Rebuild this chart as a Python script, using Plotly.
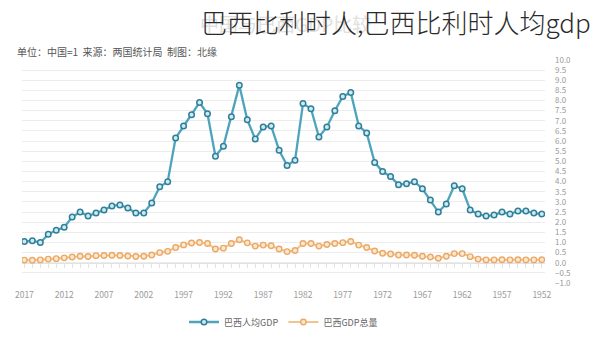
import plotly.graph_objects as go

# Years run from 2017 back to 1952 (newest on the left)
years = list(range(2017, 1951, -1))

# Brazil per-capita GDP relative to China (China = 1)
per_capita_ratio = [
    1.05, 1.08, 1.00, 1.40, 1.60, 1.75, 2.25, 2.50, 2.30, 2.45,   # 2017-2008
    2.60, 2.80, 2.85, 2.70, 2.45, 2.45, 2.95, 3.75, 4.00, 6.15,   # 2007-1998
    6.75, 7.30, 7.90, 7.35, 5.25, 5.75, 7.20, 8.75, 7.05, 6.10,   # 1997-1988
    6.70, 6.75, 5.55, 4.80, 5.05, 7.85, 7.60, 6.20, 6.70, 7.50,   # 1987-1978
    8.20, 8.40, 6.75, 6.40, 4.95, 4.50, 4.25, 3.85, 3.90, 4.00,   # 1977-1968
    3.65, 3.10, 2.50, 2.90, 3.80, 3.65, 2.60, 2.40, 2.30, 2.35,   # 1967-1958
    2.50, 2.40, 2.55, 2.55, 2.45, 2.40,                           # 1957-1952
]

# Brazil total GDP relative to China (China = 1)
gdp_ratio = [
    0.13, 0.12, 0.14, 0.18, 0.20, 0.24, 0.28, 0.32, 0.31, 0.35,
    0.36, 0.37, 0.36, 0.33, 0.31, 0.32, 0.38, 0.50, 0.56, 0.75,
    0.88, 0.97, 1.00, 0.95, 0.68, 0.72, 0.95, 1.13, 0.98, 0.82,
    0.87, 0.84, 0.68, 0.55, 0.60, 0.95, 0.95, 0.82, 0.90, 0.95,
    0.99, 1.05, 0.87, 0.75, 0.58, 0.47, 0.43, 0.38, 0.38, 0.37,
    0.32, 0.28, 0.22, 0.32, 0.45, 0.45, 0.30, 0.18, 0.14, 0.14,
    0.15, 0.14, 0.15, 0.14, 0.14, 0.15,
]

x_tick_years = [2017, 2012, 2007, 2002, 1997, 1992, 1987, 1982, 1977, 1972, 1967, 1962, 1957, 1952]
y_tick_values = [v * 0.5 for v in range(-2, 21)]

series_names = ["巴西人均GDP", "巴西GDP总量"]
main_title = "巴西比利时人,巴西比利时人均gdp"
faded_title = "中国与巴西GDP比较"
subtitle = "单位：中国=1  来源：两国统计局  制图：北缘"

FONT = "Noto Sans CJK SC"
W, H = 600, 337
ML, MR, MT, MB = 22, 55, 60, 54
PW, PH = W - ML - MR, H - MT - MB
x_range = [2017.3, 1951.6]
y_range = [-1.0, 10.0]


def px_to_paper(px, py):
    return (px - ML) / PW, (H - MB - py) / PH


fig = go.Figure()

fig.add_trace(go.Scatter(
    x=years, y=per_capita_ratio, name=series_names[0],
    mode="lines+markers",
    line=dict(color="#4ea4bd", width=2.3),
    marker=dict(symbol="circle", size=5.5, color="#cdeaf2",
                line=dict(color="#2f7f98", width=1.5)),
))
fig.add_trace(go.Scatter(
    x=years, y=gdp_ratio, name=series_names[1],
    mode="lines+markers",
    line=dict(color="#f3c390", width=2.1),
    marker=dict(symbol="circle", size=5.5, color="#fde8cc",
                line=dict(color="#eaa968", width=1.4)),
))
# carrier for the zero-level year axis with its yearly ticks
fig.add_trace(go.Scatter(
    x=years, y=gdp_ratio, xaxis="x2", mode="markers",
    marker=dict(opacity=0), hoverinfo="skip", showlegend=False,
))

zero_pos = (0 - y_range[0]) / (y_range[1] - y_range[0])

fig.update_layout(
    width=W, height=H,
    margin=dict(l=ML, r=MR, t=MT, b=MB, autoexpand=False),
    paper_bgcolor="white", plot_bgcolor="white",
    font=dict(family=FONT, color="#888"),
    xaxis=dict(
        range=x_range, tickvals=x_tick_years, ticktext=[str(y) for y in x_tick_years],
        showgrid=False, zeroline=False, showline=False, ticks="",
        tickfont=dict(size=8.5, color="#9a9a9a"), ticklabelstandoff=5,
    ),
    xaxis2=dict(
        overlaying="x", anchor="free", position=zero_pos, side="bottom",
        range=x_range, tick0=1952, dtick=1, ticks="outside", ticklen=4,
        tickcolor="#e2e2e2", tickwidth=1, showline=True, linecolor="#e2e2e2",
        showticklabels=False, showgrid=False, zeroline=False, layer="below traces",
    ),
    yaxis=dict(
        range=y_range, tickvals=y_tick_values, tickformat=".1f", side="right",
        showgrid=True, gridcolor="#ececec", gridwidth=1, zeroline=False,
        showline=False, ticks="", tickfont=dict(size=8, color="#9a9a9a"),
        ticklabelstandoff=9,
    ),
    legend=dict(
        orientation="h", x=0.5, xanchor="center",
        y=px_to_paper(0, 322)[1], yanchor="middle",
        font=dict(size=9, color="#666"),
        bgcolor="rgba(0,0,0,0)",
    ),
    showlegend=True,
)

fx, fy = px_to_paper(198, 24)
fig.add_annotation(text=faded_title, xref="paper", yref="paper", x=fx, y=fy,
                   xanchor="left", yanchor="middle", showarrow=False,
                   font=dict(family=FONT, size=19, color="#e0e0e0"))
tx, ty = px_to_paper(199, 22)
fig.add_annotation(text=main_title, xref="paper", yref="paper", x=tx, y=ty,
                   xanchor="left", yanchor="middle", showarrow=False,
                   font=dict(family=FONT, size=26, color="#2a2a2a", weight=300))
sx, sy = px_to_paper(15, 52)
fig.add_annotation(text=subtitle, xref="paper", yref="paper", x=sx, y=sy,
                   xanchor="left", yanchor="middle", showarrow=False,
                   font=dict(family=FONT, size=10, color="#555"))

fig.write_html("out.html")
